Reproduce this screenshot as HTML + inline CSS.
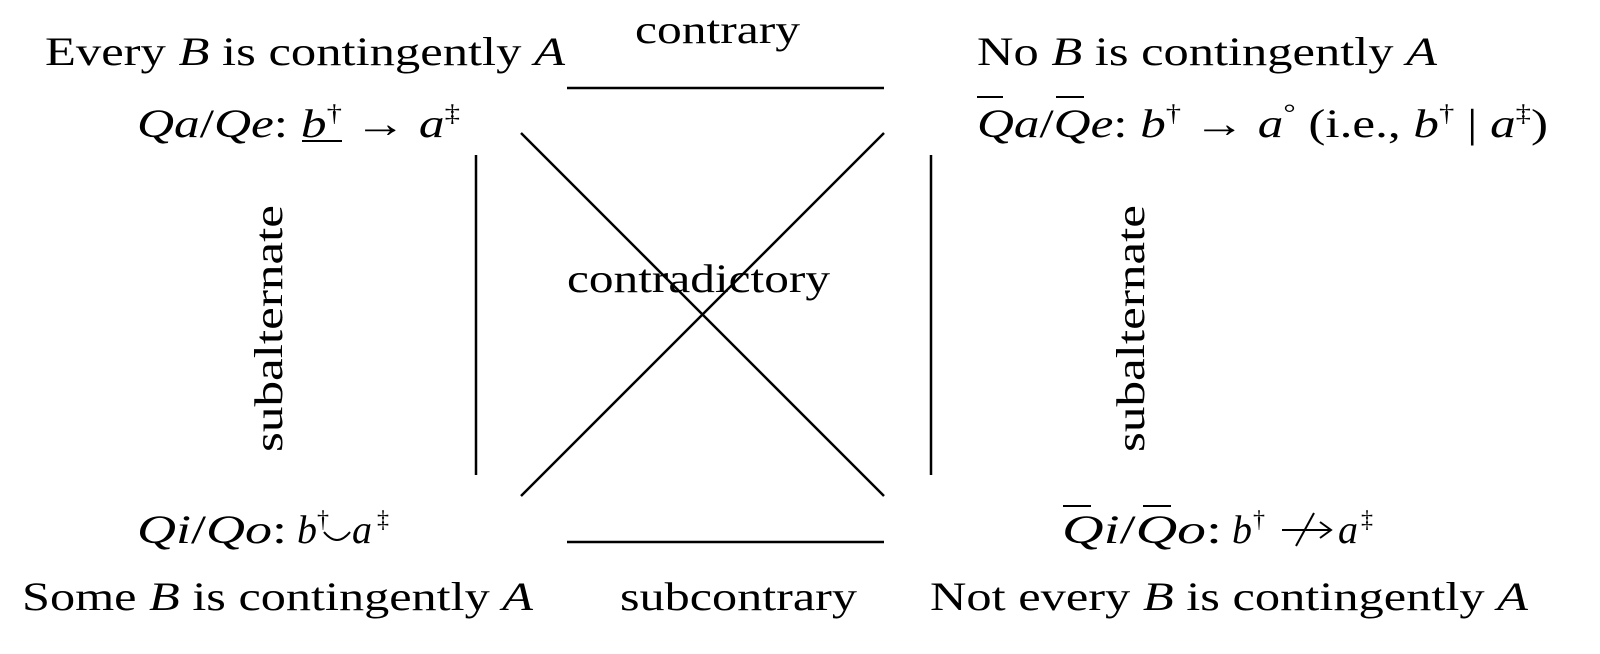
<!DOCTYPE html>
<html><head><meta charset="utf-8"><style>
html,body{margin:0;padding:0;background:#fff;}
svg{display:block;}
text{font-family:"Liberation Serif","DejaVu Serif",serif;font-size:40px;fill:#000;}
.i{font-style:italic;}
.s{font-size:24px;}
</style></head><body>
<svg width="1600" height="654" viewBox="0 0 1600 654" xmlns="http://www.w3.org/2000/svg">
<g stroke="#000" stroke-width="2.5" fill="none">
<line x1="567" y1="88" x2="884" y2="88"/>
<line x1="567" y1="542" x2="884" y2="542"/>
<line x1="476" y1="155" x2="476" y2="475"/>
<line x1="931" y1="155" x2="931" y2="475"/>
<line x1="521" y1="133" x2="884" y2="496"/>
<line x1="521" y1="496" x2="884" y2="133"/>
<line x1="302" y1="141" x2="342" y2="141" stroke-width="2"/>
<line x1="977" y1="97" x2="1003" y2="97" stroke-width="2"/>
<line x1="1056" y1="97" x2="1084" y2="97" stroke-width="2"/>
<line x1="1063" y1="506" x2="1091" y2="506" stroke-width="2"/>
<line x1="1143" y1="506" x2="1171" y2="506" stroke-width="2"/>
<path d="M324 532 Q337 548 350 532" stroke-width="2"/>
<!-- not-arrow -->
<line x1="1282" y1="530" x2="1330" y2="530" stroke-width="2"/>
<path d="M1320 522 L1331 530 L1320 538" stroke-width="2"/>
<line x1="1296" y1="546" x2="1314" y2="513" stroke-width="2"/>
</g>
<text x="45" y="65" textLength="520" lengthAdjust="spacingAndGlyphs">Every <tspan class="i">B</tspan> is contingently <tspan class="i">A</tspan></text>
<text x="635" y="43" textLength="165" lengthAdjust="spacingAndGlyphs">contrary</text>
<text x="977" y="65" textLength="460" lengthAdjust="spacingAndGlyphs">No <tspan class="i">B</tspan> is contingently <tspan class="i">A</tspan></text>
<text x="137" y="137" textLength="323" lengthAdjust="spacingAndGlyphs"><tspan class="i">Qa</tspan>/<tspan class="i">Qe</tspan>: <tspan class="i">b</tspan><tspan class="s" dy="-16">†</tspan><tspan dy="16"> → </tspan><tspan class="i">a</tspan><tspan class="s" dy="-16">‡</tspan></text>
<text x="977" y="137" textLength="571" lengthAdjust="spacingAndGlyphs"><tspan class="i">Q</tspan><tspan class="i">a</tspan>/<tspan class="i">Q</tspan><tspan class="i">e</tspan>: <tspan class="i">b</tspan><tspan class="s" dy="-16">†</tspan><tspan dy="16"> → </tspan><tspan class="i">a</tspan><tspan class="s" dy="-16">°</tspan><tspan dy="16"> (i.e., </tspan><tspan class="i">b</tspan><tspan class="s" dy="-16">†</tspan><tspan dy="16"> | </tspan><tspan class="i">a</tspan><tspan class="s" dy="-16">‡</tspan><tspan dy="16">)</tspan></text>
<text x="567" y="292" textLength="263" lengthAdjust="spacingAndGlyphs">contradictory</text>
<text x="137" y="543" textLength="150" lengthAdjust="spacingAndGlyphs"><tspan class="i">Qi</tspan>/<tspan class="i">Qo</tspan>:</text>
<text class="i" x="297" y="543">b</text><text class="s" x="317" y="527">†</text>
<text class="i" x="352" y="543">a</text><text class="s" x="377" y="527">‡</text>
<text x="1062" y="543" textLength="160" lengthAdjust="spacingAndGlyphs"><tspan class="i">Qi</tspan>/<tspan class="i">Qo</tspan>:</text>
<text class="i" x="1232" y="543">b</text><text class="s" x="1253" y="527">†</text>
<text class="i" x="1338" y="543">a</text><text class="s" x="1361" y="527">‡</text>
<text x="22" y="610" textLength="511" lengthAdjust="spacingAndGlyphs">Some <tspan class="i">B</tspan> is contingently <tspan class="i">A</tspan></text>
<text x="620" y="610" textLength="237" lengthAdjust="spacingAndGlyphs">subcontrary</text>
<text x="930" y="610" textLength="598" lengthAdjust="spacingAndGlyphs">Not every <tspan class="i">B</tspan> is contingently <tspan class="i">A</tspan></text>
<text transform="translate(282,452) rotate(-90)" textLength="247" lengthAdjust="spacingAndGlyphs">subalternate</text>
<text transform="translate(1144,452) rotate(-90)" textLength="247" lengthAdjust="spacingAndGlyphs">subalternate</text>
</svg>
</body></html>
